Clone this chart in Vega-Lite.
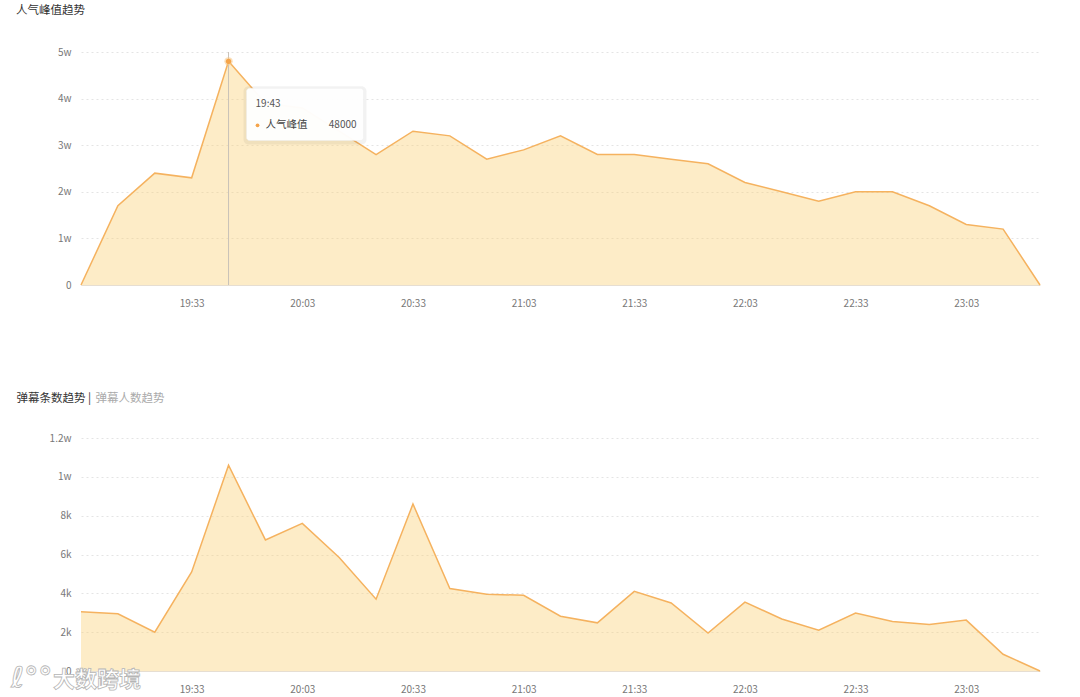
{
  "$schema": "https://vega.github.io/schema/vega-lite/v6.json",
  "background": "white",
  "padding": {"left": 11, "top": 4, "right": 0, "bottom": 0},
  "spacing": 84,
  "config": {
    "font": "Noto Sans CJK SC",
    "view": {"stroke": null},
    "axis": {"labelFont": "Noto Sans CJK SC", "labelFontSize": 10, "labelColor": "#777777", "ticks": false, "domain": false, "grid": false, "labelOverlap": false},
    "title": {"font": "Noto Sans CJK SC", "fontSize": 11.5, "fontWeight": "normal", "color": "#333333", "anchor": "start", "frame": "group", "dx": -65, "offset": 31}
  },
  "datasets": {
    "pop": [
      {"t": "19:03", "v": 0}, {"t": "19:13", "v": 17000}, {"t": "19:23", "v": 24000}, {"t": "19:33", "v": 23000},
      {"t": "19:43", "v": 48000}, {"t": "19:53", "v": 39000}, {"t": "20:03", "v": 38000}, {"t": "20:13", "v": 33000},
      {"t": "20:23", "v": 28000}, {"t": "20:33", "v": 33000}, {"t": "20:43", "v": 32000}, {"t": "20:53", "v": 27000},
      {"t": "21:03", "v": 29000}, {"t": "21:13", "v": 32000}, {"t": "21:23", "v": 28000}, {"t": "21:33", "v": 28000},
      {"t": "21:43", "v": 27000}, {"t": "21:53", "v": 26000}, {"t": "22:03", "v": 22000}, {"t": "22:13", "v": 20000},
      {"t": "22:23", "v": 18000}, {"t": "22:33", "v": 20000}, {"t": "22:43", "v": 20000}, {"t": "22:53", "v": 17000},
      {"t": "23:03", "v": 13000}, {"t": "23:13", "v": 12000}, {"t": "23:23", "v": 0}
    ],
    "dm": [
      {"t": "19:03", "v": 3050}, {"t": "19:13", "v": 2950}, {"t": "19:23", "v": 2000}, {"t": "19:33", "v": 5100},
      {"t": "19:43", "v": 10600}, {"t": "19:53", "v": 6750}, {"t": "20:03", "v": 7600}, {"t": "20:13", "v": 5850},
      {"t": "20:23", "v": 3700}, {"t": "20:33", "v": 8600}, {"t": "20:43", "v": 4250}, {"t": "20:53", "v": 3950},
      {"t": "21:03", "v": 3900}, {"t": "21:13", "v": 2820}, {"t": "21:23", "v": 2480}, {"t": "21:33", "v": 4100},
      {"t": "21:43", "v": 3500}, {"t": "21:53", "v": 1950}, {"t": "22:03", "v": 3550}, {"t": "22:13", "v": 2680},
      {"t": "22:23", "v": 2100}, {"t": "22:33", "v": 2980}, {"t": "22:43", "v": 2550}, {"t": "22:53", "v": 2400},
      {"t": "23:03", "v": 2620}, {"t": "23:13", "v": 860}, {"t": "23:23", "v": 0}
    ],
    "tip": [{"t": "19:43", "v": 48000, "label": "人气峰值", "top": 42200, "bottom": 31000}],
    "mark": [{"t": "19:03", "v": 0, "w": "大数跨境", "logo": "ℓ°°"}]
  },
  "vconcat": [
    {
      "width": 959,
      "height": 233,
      "title": {"text": "人气峰值趋势"},
      "layer": [
        {
          "data": {"name": "pop"},
          "mark": {"type": "area", "color": "#fad074", "opacity": 0.4},
          "encoding": {
            "x": {"field": "t", "type": "ordinal", "scale": {"type": "point", "padding": 0},
              "axis": {"values": ["19:33", "20:03", "20:33", "21:03", "21:33", "22:03", "22:33", "23:03"], "labelAngle": 0, "labelPadding": 13, "domain": true, "domainColor": "#e6ded2", "title": null}},
            "y": {"field": "v", "type": "quantitative", "scale": {"domain": [0, 50000]},
              "axis": {"values": [0, 10000, 20000, 30000, 40000, 50000], "tickCount": 10, "labelExpr": "datum.value == 0 ? '0' : (datum.value / 10000) + 'w'", "labelPadding": 10, "grid": true, "gridColor": "#e4e4e4", "gridDash": [2, 3], "title": null}}
          }
        },
        {
          "data": {"name": "pop"},
          "mark": {"type": "line", "color": "#f5b25f", "strokeWidth": 1.5},
          "encoding": {"x": {"field": "t", "type": "ordinal"}, "y": {"field": "v", "type": "quantitative"}}
        },
        {
          "data": {"name": "tip"},
          "mark": {"type": "rule", "color": "#c9c2b8", "strokeWidth": 1},
          "encoding": {"x": {"field": "t", "type": "ordinal"}, "y": {"datum": 50000, "type": "quantitative"}, "y2": {"datum": 0}}
        },
        {
          "data": {"name": "tip"},
          "mark": {"type": "point", "filled": true, "color": "#f7c98c", "size": 70, "opacity": 0.6},
          "encoding": {"x": {"field": "t", "type": "ordinal"}, "y": {"field": "v", "type": "quantitative"}}
        },
        {
          "data": {"name": "tip"},
          "mark": {"type": "point", "filled": true, "color": "#f5a44a", "size": 28, "opacity": 1},
          "encoding": {"x": {"field": "t", "type": "ordinal"}, "y": {"field": "v", "type": "quantitative"}}
        },
        {
          "data": {"name": "tip"},
          "mark": {"type": "rect", "color": "#000000", "opacity": 0.05, "cornerRadius": 5, "xOffset": 15, "x2Offset": 138, "yOffset": -2, "y2Offset": 4},
          "encoding": {"x": {"field": "t", "type": "ordinal"}, "x2": {"field": "t"}, "y": {"field": "top", "type": "quantitative"}, "y2": {"field": "bottom"}}
        },
        {
          "data": {"name": "tip"},
          "mark": {"type": "rect", "color": "#ffffff", "opacity": 0.97, "cornerRadius": 3, "stroke": "#eeeeee", "strokeWidth": 0.5, "xOffset": 18, "x2Offset": 135},
          "encoding": {"x": {"field": "t", "type": "ordinal"}, "x2": {"field": "t"}, "y": {"field": "top", "type": "quantitative"}, "y2": {"field": "bottom"}}
        },
        {
          "data": {"name": "tip"},
          "mark": {"type": "text", "align": "left", "baseline": "middle", "dx": 27, "dy": 16, "fontSize": 10, "color": "#555555"},
          "encoding": {"x": {"field": "t", "type": "ordinal"}, "y": {"field": "top", "type": "quantitative"}, "text": {"field": "t"}}
        },
        {
          "data": {"name": "tip"},
          "mark": {"type": "point", "filled": true, "color": "#f5a44a", "size": 14, "opacity": 1, "xOffset": 29, "yOffset": 37},
          "encoding": {"x": {"field": "t", "type": "ordinal"}, "y": {"field": "top", "type": "quantitative"}}
        },
        {
          "data": {"name": "tip"},
          "mark": {"type": "text", "align": "left", "baseline": "middle", "dx": 37, "dy": 37, "fontSize": 10.5, "color": "#444444"},
          "encoding": {"x": {"field": "t", "type": "ordinal"}, "y": {"field": "top", "type": "quantitative"}, "text": {"field": "label"}}
        },
        {
          "data": {"name": "tip"},
          "mark": {"type": "text", "align": "right", "baseline": "middle", "dx": 128, "dy": 37, "fontSize": 10, "color": "#555555"},
          "encoding": {"x": {"field": "t", "type": "ordinal"}, "y": {"field": "top", "type": "quantitative"}, "text": {"field": "v", "type": "quantitative", "format": "d"}}
        }
      ]
    },
    {
      "width": 959,
      "height": 233,
      "layer": [
        {
          "data": {"name": "dm"},
          "mark": {"type": "area", "color": "#fad074", "opacity": 0.4},
          "encoding": {
            "x": {"field": "t", "type": "ordinal", "scale": {"type": "point", "padding": 0},
              "axis": {"values": ["19:33", "20:03", "20:33", "21:03", "21:33", "22:03", "22:33", "23:03"], "labelAngle": 0, "labelPadding": 13, "domain": true, "domainColor": "#e6ded2",
                "title": "弹幕条数趋势 |", "titleAngle": 0, "titleAlign": "left", "titleBaseline": "middle", "titleX": -65, "titleY": -273, "titleColor": "#333333", "titleFontSize": 11.5, "titleFontWeight": "normal", "titleFont": "Noto Sans CJK SC"}},
            "y": {"field": "v", "type": "quantitative", "scale": {"domain": [0, 12000]},
              "axis": {"values": [0, 2000, 4000, 6000, 8000, 10000, 12000], "tickCount": 12, "labelExpr": "datum.value == 0 ? '0' : (datum.value >= 10000 ? (datum.value / 10000) + 'w' : (datum.value / 1000) + 'k')", "labelPadding": 10, "grid": true, "gridColor": "#e4e4e4", "gridDash": [2, 3],
                "title": "弹幕人数趋势", "titleAngle": 0, "titleAlign": "left", "titleBaseline": "middle", "titleX": 14, "titleY": -40, "titleColor": "#aaaaaa", "titleFontSize": 11.5, "titleFontWeight": "normal", "titleFont": "Noto Sans CJK SC"}}
          }
        },
        {
          "data": {"name": "dm"},
          "mark": {"type": "line", "color": "#f5b25f", "strokeWidth": 1.5},
          "encoding": {"x": {"field": "t", "type": "ordinal"}, "y": {"field": "v", "type": "quantitative"}}
        },
        {
          "data": {"name": "mark"},
          "mark": {"type": "text", "align": "left", "baseline": "middle", "dx": -28, "dy": 9, "fontSize": 22, "fontWeight": "bold", "color": "#ffffff", "stroke": "#b5b5b5", "strokeWidth": 0.8},
          "encoding": {"x": {"field": "t", "type": "ordinal"}, "y": {"field": "v", "type": "quantitative"}, "text": {"field": "w"}}
        },
        {
          "data": {"name": "mark"},
          "mark": {"type": "text", "align": "left", "baseline": "middle", "dx": -70, "dy": 8, "font": "DejaVu Sans", "fontSize": 28, "fontWeight": "bold", "color": "#ffffff", "stroke": "#b5b5b5", "strokeWidth": 0.8},
          "encoding": {"x": {"field": "t", "type": "ordinal"}, "y": {"field": "v", "type": "quantitative"}, "text": {"field": "logo"}}
        }
      ]
    }
  ]
}
